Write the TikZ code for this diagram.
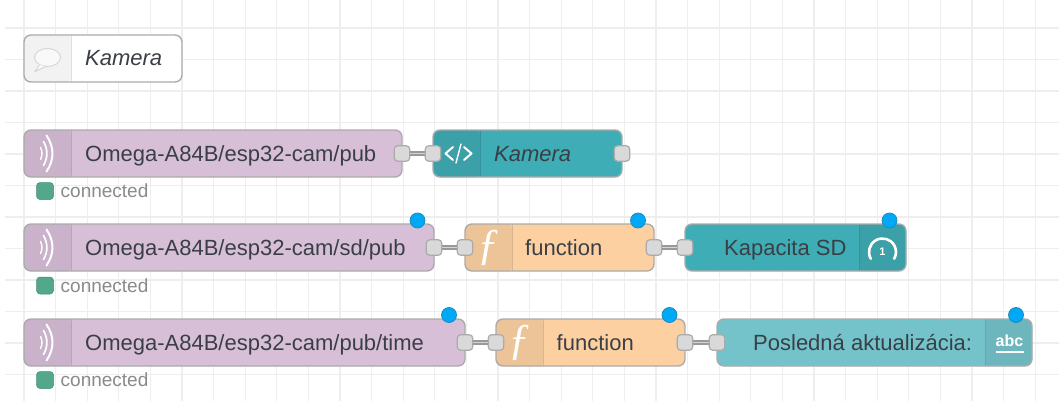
\documentclass[tikz,border=0pt]{standalone}
\usepackage{fontspec}
\setmainfont{Liberation Sans}
\definecolor{gridc}{HTML}{EEEEEE}
\definecolor{edge}{HTML}{ABABAB}
\definecolor{mq}{HTML}{D8BFD8}
\definecolor{mqi}{HTML}{C9B2CA}
\definecolor{tl}{HTML}{3FADB5}
\definecolor{tli}{HTML}{3BA0A8}
\definecolor{fn}{HTML}{FDD0A2}
\definecolor{fni}{HTML}{EDC498}
\definecolor{tx}{HTML}{75C3CA}
\definecolor{txi}{HTML}{6DB6BD}
\definecolor{cmi}{HTML}{F2F2F2}
\definecolor{labelc}{HTML}{3A3F46}
\definecolor{stat}{HTML}{8A8A8A}
\definecolor{okc}{HTML}{53A78A}
\definecolor{dot}{HTML}{00A9F5}
\definecolor{dotb}{HTML}{2389C0}
\definecolor{portf}{HTML}{D9D9D9}
\definecolor{wirec}{HTML}{999999}
\tikzset{
 base/.style={draw=edge,line width=1.4pt,rounded corners=7pt,minimum height=47pt,inner sep=0pt},
 iconl/.style 2 args={base,fill=#1,path picture={
   \fill[#2] ([xshift=-2pt,yshift=2pt]path picture bounding box.north west) rectangle ([xshift=47pt,yshift=-2pt]path picture bounding box.south west);
   \draw[black!8!#2,line width=.8pt] ([xshift=47pt]path picture bounding box.north west) -- ([xshift=47pt]path picture bounding box.south west);}},
 iconr/.style 2 args={base,fill=#1,path picture={
   \fill[#2] ([xshift=2pt,yshift=2pt]path picture bounding box.north east) rectangle ([xshift=-47pt,yshift=-2pt]path picture bounding box.south east);
   \draw[black!8!#2,line width=.8pt] ([xshift=-47pt]path picture bounding box.north east) -- ([xshift=-47pt]path picture bounding box.south east);}},
 lbl/.style={anchor=base west,inner sep=0pt,text=labelc,font=\fontsize{22}{26}\selectfont},
 lbli/.style={lbl,font=\fontsize{22}{26}\selectfont\itshape},
 stxt/.style={anchor=base west,inner sep=0pt,text=stat,font=\fontsize{19}{22}\selectfont},
 portn/.style={draw=edge,fill=portf,line width=1.2pt,rounded corners=3.5pt,minimum width=15.5pt,minimum height=15.5pt,inner sep=0pt},
 wire/.style={draw=wirec,line width=4.6pt},
 wirecore/.style={draw=gridc!70!wirec,line width=1.4pt},
 badge/.style={circle,fill=dot,draw=dotb,line width=.8pt,minimum size=15pt,inner sep=0pt},
 okbox/.style={fill=okc,draw=okc!85!black,line width=.5pt,rounded corners=3.5pt,minimum size=17pt,inner sep=0pt},
 ico/.style={draw=white,line width=1.8pt,line cap=round,line join=round},
 fglyph/.style={inner sep=0pt,text=white,font=\fontsize{44}{44}\selectfont\itshape},
}
\newcommand{\wavesign}[1]{%
 \draw[ico,line width=1.4pt] (40.5,#1-6) ..controls (42.5,#1-2) and (42.5,#1+2) .. (40.5,#1+6);
 \draw[ico,line width=1.7pt] (43.5,#1-12) ..controls (48,#1-4) and (48,#1+4) .. (43.5,#1+12);
 \draw[ico,line width=2pt] (46.5,#1-18) ..controls (54.5,#1-6) and (54.5,#1+6) .. (46.5,#1+18);
}
\begin{document}
\begin{tikzpicture}[x=1pt,y=-1pt]
\useasboundingbox (0,0) rectangle (1059,401);
\fill[white] (0,0) rectangle (1059,401);
% grid
\foreach \k in {0,...,32} \draw[gridc,line width=1.2pt] ({24+31.6*\k},0) -- ({24+31.6*\k},401);
\foreach \k in {0,...,11} \draw[gridc,line width=1.2pt] (5,{28+31.5*\k}) -- (1059,{28+31.5*\k});

% comment
\node[iconl={white}{cmi},minimum width=158pt] (cm) at (103,58.5) {};
\node[lbli] (cmt) at (85,66) {Kamera};
\draw[draw=black!16,fill=white!55!cmi,line width=1pt] (47.5,57.5) ellipse[x radius=13,y radius=9];
\fill[white!55!cmi] (38,64) -- (35,71.5) -- (46,67) -- cycle;
\draw[draw=black!16,line width=1pt] (39.5,64.5) -- (35,71.5) -- (46,66.5);

% row 1
\node[iconl={mq}{mqi},minimum width=378pt] (a1) at (213,153.5) {};
\node[lbl] (a1t) at (85,161) {Omega-A84B/esp32-cam/pub};
\wavesign{153.5}
\node[okbox] (a1s) at (45,191) {};
\node[stxt] (a1c) at (60.5,197.5) {connected};
\node[iconl={tl}{tli},minimum width=189pt] (b1) at (527.5,153.5) {};
\node[lbli] (b1t) at (494,161) {Kamera};
\draw[ico,line width=2pt] (453,147) -- (445.5,153.5) -- (453,160);
\draw[ico,line width=2pt] (464,147) -- (471.5,153.5) -- (464,160);
\draw[ico,line width=1.4pt] (461,144) -- (456,163);
\node[portn] (a1o) at (402,153.5) {};
\node[portn] (b1i) at (433,153.5) {};
\node[portn] (b1o) at (622,153.5) {};
\draw[wire] (a1o.east) -- (b1i.west);
\draw[wirecore] (a1o.east) -- (b1i.west);

% row 2
\node[iconl={mq}{mqi},minimum width=410pt] (a2) at (229,247.5) {};
\node[lbl] (a2t) at (85,255) {Omega-A84B/esp32-cam/sd/pub};
\wavesign{247.5}
\node[okbox] (a2s) at (45,285.5) {};
\node[stxt] (a2c) at (60.5,292) {connected};
\node[iconl={fn}{fni},minimum width=189pt] (b2) at (559.5,247.5) {};
\node[lbl] (b2t) at (525,255) {function};
\node[fglyph] (b2f) at (488,248) {\fontspec{Liberation Serif}[Scale=1]ƒ};
\node[iconr={tl}{tli},minimum width=221pt] (c2) at (795.5,247.5) {};
\node[lbl] (c2t) at (724,255) {Kapacita SD};
\draw[ico,line width=2.6pt] (870.8,258.75) arc[start angle=150,end angle=390,radius=13.5];
\node[inner sep=0pt,text=white,font=\bfseries\fontsize{11}{11}\selectfont] (c2v) at (882.5,251.5) {1};
\node[portn] (a2o) at (434,247.5) {};
\node[portn] (b2i) at (465,247.5) {};
\node[portn] (b2o) at (654,247.5) {};
\node[portn] (c2i) at (685,247.5) {};
\draw[wire] (a2o.east) -- (b2i.west);
\draw[wirecore] (a2o.east) -- (b2i.west);
\draw[wire] (b2o.east) -- (c2i.west);
\draw[wirecore] (b2o.east) -- (c2i.west);
\node[badge] (a2d) at (417.5,220.5) {};
\node[badge] (b2d) at (638,220.5) {};
\node[badge] (c2d) at (889.5,220.5) {};

% row 3
\node[iconl={mq}{mqi},minimum width=441pt] (a3) at (244.5,342.5) {};
\node[lbl] (a3t) at (85,350) {Omega-A84B/esp32-cam/pub/time};
\wavesign{342.5}
\node[okbox] (a3s) at (45,380) {};
\node[stxt] (a3c) at (60.5,386.5) {connected};
\node[iconl={fn}{fni},minimum width=189pt] (b3) at (590.5,342.5) {};
\node[lbl] (b3t) at (556.5,350) {function};
\node[fglyph] (b3f) at (519.5,343) {\fontspec{Liberation Serif}[Scale=1]ƒ};
\node[iconr={tx}{txi},minimum width=315pt] (c3) at (874.5,342.5) {};
\node[lbl] (c3t) at (753,350) {Posledná aktualizácia:};
\node[inner sep=0pt,text=white,font=\bfseries\fontsize{16}{16}\selectfont] (c3v) at (1009.5,341) {abc};
\draw[white,line width=2pt] (995.5,351.5) -- (1024,351.5);
\node[portn] (a3o) at (465,342.5) {};
\node[portn] (b3i) at (496,342.5) {};
\node[portn] (b3o) at (685,342.5) {};
\node[portn] (c3i) at (717,342.5) {};
\draw[wire] (a3o.east) -- (b3i.west);
\draw[wirecore] (a3o.east) -- (b3i.west);
\draw[wire] (b3o.east) -- (c3i.west);
\draw[wirecore] (b3o.east) -- (c3i.west);
\node[badge] (a3d) at (449,315) {};
\node[badge] (b3d) at (669.5,315) {};
\node[badge] (c3d) at (1016,315) {};
\end{tikzpicture}
\end{document}
